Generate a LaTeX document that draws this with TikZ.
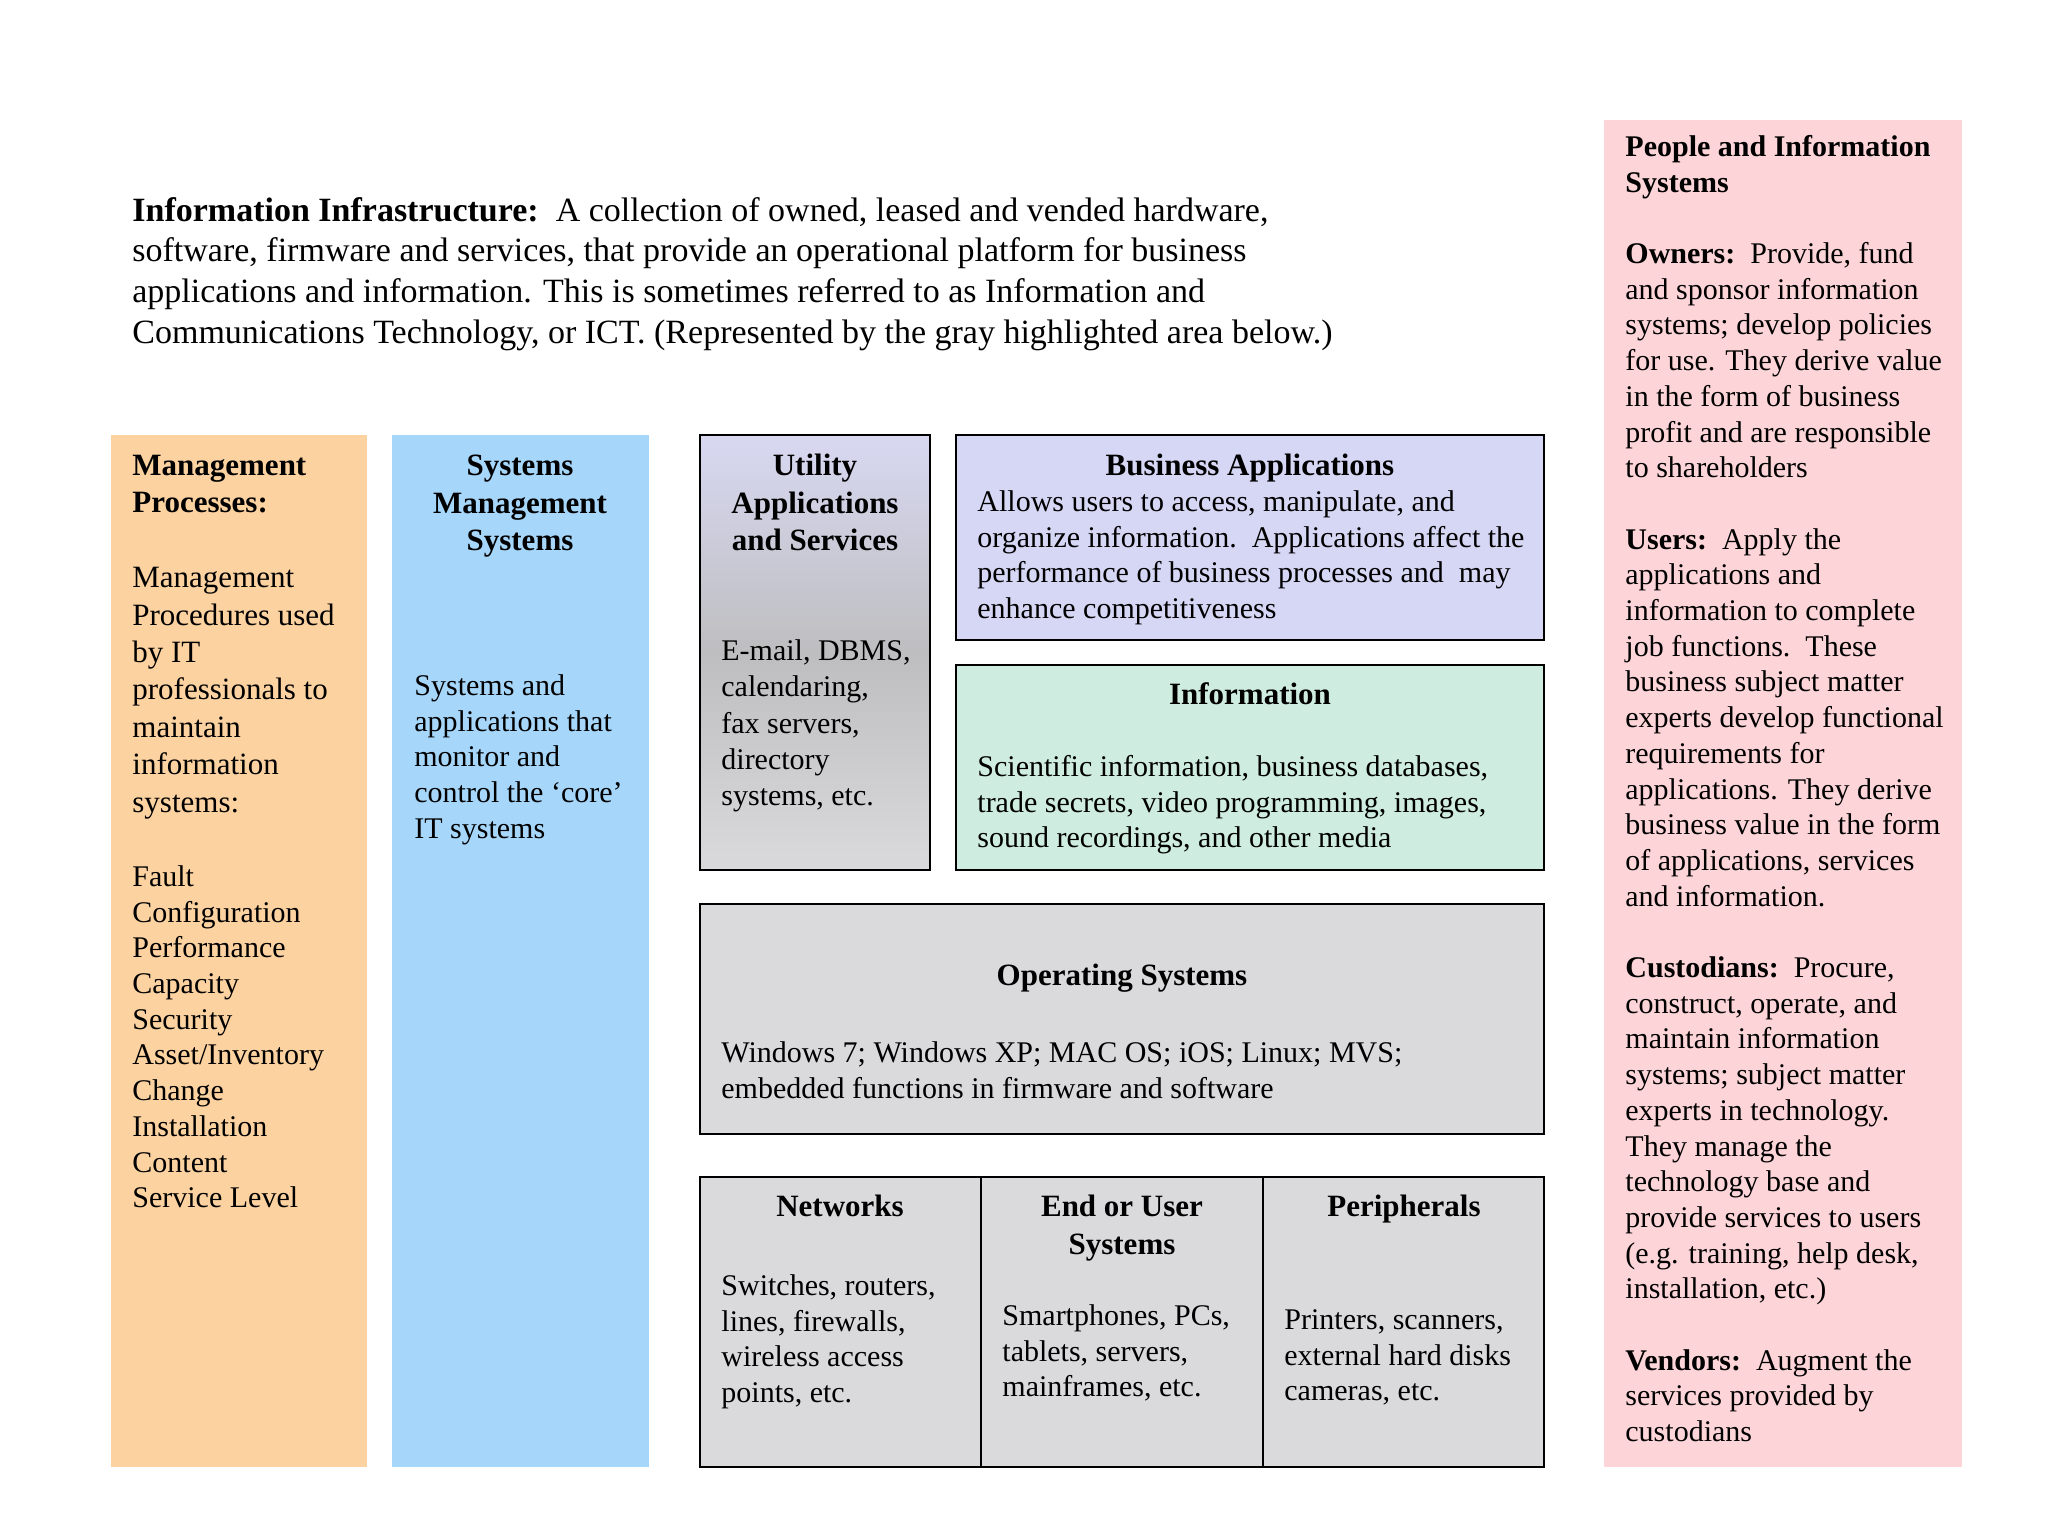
\documentclass[tikz,border=0pt]{standalone}
\usepackage{fontspec}
\setmainfont{Liberation Serif}
\usetikzlibrary{fit}
\definecolor{orangebg}{RGB}{252,210,160}
\definecolor{bluebg}{RGB}{166,214,250}
\definecolor{lavbg}{RGB}{214,214,245}
\definecolor{mintbg}{RGB}{206,236,224}
\definecolor{graybg}{RGB}{218,218,220}
\definecolor{pinkbg}{RGB}{253,213,216}
\definecolor{utiltop}{RGB}{216,216,242}
\definecolor{utilmid}{RGB}{190,190,192}
\definecolor{utilbot}{RGB}{218,218,220}
\tikzset{
  panel/.style={inner sep=0pt, outer sep=0pt, draw=none},
  framed/.style={inner sep=0pt, outer sep=0pt, draw=black, line width=1.4pt},
  txt/.style={inner sep=0pt, anchor=north west, align=left, font=\fontsize{15}{17.85}\selectfont},
  hdr/.style={inner sep=0pt, anchor=north, align=center, font=\bfseries\fontsize{15.5}{18.75}\selectfont},
}
\begin{document}
\begin{tikzpicture}[x=0.5pt,y=-0.5pt]
\useasboundingbox[fill=white] (0,0) rectangle (2048,1536);

% background panels
\node[panel, fill=orangebg, fit={(111,435) (367,1467)}] (mgmt) {};
\node[panel, fill=bluebg, fit={(392,435) (649,1467)}] (sms) {};
\node[panel, fill=pinkbg, fit={(1604,120) (1962,1467)}] (people) {};

% framed boxes
\node[framed, top color=utiltop, bottom color=utilbot, middle color=utilmid, fit={(700,435) (930,870)}] (util) {};
\node[framed, fill=lavbg, fit={(956,435) (1544,640)}] (bizapp) {};
\node[framed, fill=mintbg, fit={(956,665) (1544,870)}] (info) {};
\node[framed, fill=graybg, fit={(700,904) (1544,1134)}] (os) {};
\node[framed, fill=graybg, fit={(700,1177) (981,1467)}] (net) {};
\node[framed, fill=graybg, fit={(981,1177) (1263,1467)}] (endu) {};
\node[framed, fill=graybg, fit={(1263,1177) (1544,1467)}] (peri) {};

% title
\node[txt, font=\fontsize{17}{20.45}\selectfont] (title) at (132,192) {\strut\textbf{Information Infrastructure:}\ \ A collection of owned, leased and vended hardware,\\software, firmware and services, that provide an operational platform for business\\applications and information. This is sometimes referred to as Information and\\Communications Technology, or ICT. (Represented by the gray highlighted area below.)};

% management processes
\node[txt, font=\fontsize{15.5}{18.7}\selectfont] (mgmtA) at (132,449) {\strut\textbf{Management}\\\textbf{Processes:}\\\mbox{}\\Management\\Procedures used\\by IT\\professionals to\\maintain\\information\\systems:};
\node[txt] (mgmtB) at (132,861) {\strut Fault\\Configuration\\Performance\\Capacity\\Security\\Asset/Inventory\\Change\\Installation\\Content\\Service Level};

% systems management systems
\node[hdr] (smsT) at (520,449) {\strut Systems\\Management\\Systems};
\node[txt] (smsB) at (414,670) {\strut Systems and\\applications that\\monitor and\\control the ‘core’\\IT systems};

% utility
\node[hdr] (utilT) at (815,449) {\strut Utility\\Applications\\and Services};
\node[txt, font=\fontsize{15}{18.1}\selectfont] (utilB) at (721,635) {\strut E-mail, DBMS,\\calendaring,\\fax servers,\\directory\\systems, etc.};

% business applications
\node[hdr] (bizT) at (1250,449) {\strut Business Applications};
\node[txt] (bizB) at (977,486) {\strut Allows users to access, manipulate, and\\organize information.\ \ Applications affect the\\performance of business processes and\ \ may\\enhance competitiveness};

% information
\node[hdr] (infoT) at (1250,678) {\strut Information};
\node[txt] (infoB) at (977,751) {\strut Scientific information, business databases,\\trade secrets, video programming, images,\\sound recordings, and other media};

% operating systems
\node[hdr] (osT) at (1122,959) {\strut Operating Systems};
\node[txt] (osB) at (721,1037) {\strut Windows 7; Windows XP; MAC OS; iOS; Linux; MVS;\\embedded functions in firmware and software};

% bottom row
\node[hdr] (netT) at (840,1190) {\strut Networks};
\node[txt] (netB) at (721,1270) {\strut Switches, routers,\\lines, firewalls,\\wireless access\\points, etc.};
\node[hdr] (enduT) at (1122,1190) {\strut End or User\\Systems};
\node[txt] (enduB) at (1002,1300) {\strut Smartphones, PCs,\\tablets, servers,\\mainframes, etc.};
\node[hdr] (periT) at (1404,1190) {\strut Peripherals};
\node[txt] (periB) at (1284,1304) {\strut Printers, scanners,\\external hard disks\\cameras, etc.};

% people
\node[txt] (peopleT) at (1625,131) {\strut\textbf{People and Information}\\\textbf{Systems}\\\mbox{}\\%
\textbf{Owners:}\ \ Provide, fund\\and sponsor information\\systems; develop policies\\for use. They derive value\\in the form of business\\profit and are responsible\\to shareholders\\\mbox{}\\%
\textbf{Users:}\ \ Apply the\\applications and\\information to complete\\job functions.\ \ These\\business subject matter\\experts develop functional\\requirements for\\applications. They derive\\business value in the form\\of applications, services\\and information.\\\mbox{}\\%
\textbf{Custodians:}\ \ Procure,\\construct, operate, and\\maintain information\\systems; subject matter\\experts in technology.\\They manage the\\technology base and\\provide services to users\\(e.g. training, help desk,\\installation, etc.)\\\mbox{}\\%
\textbf{Vendors:}\ \ Augment the\\services provided by\\custodians};
\end{tikzpicture}
\end{document}
